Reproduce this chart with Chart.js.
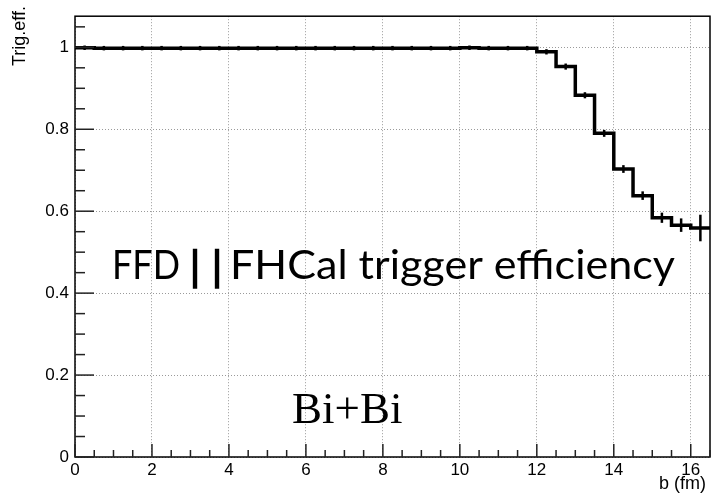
<!DOCTYPE html>
<html>
<head>
<meta charset="utf-8">
<script src="https://cdn.jsdelivr.net/npm/chart.js@4/dist/chart.umd.min.js"></script>
<style>
  html, body { margin: 0; padding: 0; background: #fff; }
  #wrap { width: 717px; height: 494px; }
</style>
</head>
<body>
<div id="wrap"><canvas id="chartEff"></canvas></div>
<script>
// bins of impact parameter b (fm), 0.5 fm wide
const binEdges = [0, 0.5, 1, 1.5, 2, 2.5, 3, 3.5, 4, 4.5, 5, 5.5, 6, 6.5, 7, 7.5, 8, 8.5,
  9, 9.5, 10, 10.5, 11, 11.5, 12, 12.5, 13, 13.5, 14, 14.5, 15, 15.5, 16, 16.5];
const effValues = [0.999, 0.998, 0.998, 0.998, 0.998, 0.998, 0.998, 0.998, 0.998, 0.998,
  0.998, 0.998, 0.998, 0.998, 0.998, 0.998, 0.998, 0.998, 0.998, 0.998, 0.999, 0.998,
  0.998, 0.998, 0.989, 0.953, 0.883, 0.790, 0.703, 0.638, 0.584, 0.566, 0.559];
const effErrors = [0.003, 0.003, 0.003, 0.003, 0.003, 0.003, 0.003, 0.003, 0.003, 0.003,
  0.003, 0.003, 0.003, 0.003, 0.003, 0.003, 0.003, 0.003, 0.003, 0.003, 0.003, 0.003,
  0.003, 0.003, 0.004, 0.005, 0.005, 0.006, 0.007, 0.008, 0.010, 0.014, 0.030];
const xTickLabels = [0, 2, 4, 6, 8, 10, 12, 14, 16];
const yTickLabels = [0, 0.2, 0.4, 0.6, 0.8, 1];

const xMax = 16.5, yMax = 1.076;

// histogram outline: value held from each low edge, closed at the last edge
function stepPoints() {
  const pts = effValues.map((v, i) => ({ x: binEdges[i], y: v }));
  pts.push({ x: binEdges[binEdges.length - 1], y: effValues[effValues.length - 1] });
  return pts;
}

// text drawn squeezed/stretched to a given width
function fitText(ctx, txt, x, y, width) {
  const w = ctx.measureText(txt).width;
  ctx.save();
  ctx.translate(x, y);
  ctx.scale(width / w, 1);
  ctx.fillText(txt, 0, 0);
  ctx.restore();
}

const rootStyle = {
  id: "rootStyle",
  afterDatasetsDraw(chart) {
    const ctx = chart.ctx;
    const a = chart.chartArea;
    const xs = chart.scales.x, ys = chart.scales.y;
    ctx.save();

    // error bars at bin centres
    ctx.strokeStyle = "#000";
    ctx.lineWidth = 2.5;
    effValues.forEach((v, i) => {
      const cx = xs.getPixelForValue((binEdges[i] + binEdges[i + 1]) / 2);
      const y1 = ys.getPixelForValue(v - effErrors[i]);
      const y2 = ys.getPixelForValue(v + effErrors[i]);
      ctx.beginPath();
      ctx.moveTo(cx, y1 + 1);
      ctx.lineTo(cx, y2 - 1);
      ctx.stroke();
    });

    // frame
    ctx.lineWidth = 1.5;
    ctx.strokeRect(a.left, a.top, a.right - a.left, a.bottom - a.top);

    // inward ticks
    ctx.lineWidth = 1.5;
    ctx.strokeStyle = "#222";
    for (let v = 0; v <= xMax + 1e-9; v += 0.5) {
      const px = xs.getPixelForValue(v);
      const len = Math.abs(v % 2) < 1e-9 ? 13 : 7;
      ctx.beginPath();
      ctx.moveTo(px, a.bottom);
      ctx.lineTo(px, a.bottom - len);
      ctx.stroke();
    }
    for (let v = 0; v <= yMax + 1e-9; v += 0.05) {
      const py = ys.getPixelForValue(v);
      const k = Math.round(v / 0.05);
      const len = k % 4 === 0 ? 19 : 10;
      ctx.beginPath();
      ctx.moveTo(a.left, py);
      ctx.lineTo(a.left + len, py);
      ctx.stroke();
    }

    // axis titles
    ctx.fillStyle = "#000";
    ctx.font = "18px 'Liberation Sans', Arial, sans-serif";
    ctx.textAlign = "right";
    ctx.textBaseline = "alphabetic";
    ctx.fillText("b (fm)", 706, 489);
    ctx.save();
    ctx.translate(25, 6);
    ctx.rotate(-Math.PI / 2);
    ctx.textAlign = "right";
    ctx.fillText("Trig.eff.", 0, 0);
    ctx.restore();

    // annotations
    ctx.textAlign = "left";
    ctx.font = "40px Lato, 'Open Sans', sans-serif";
    fitText(ctx, "FFD", 112, 279, 68);
    ctx.strokeStyle = "#000";
    ctx.lineWidth = 1.6;
    ctx.fillText("|", 190, 281);
    ctx.strokeText("|", 190, 281);
    ctx.fillText("|", 212, 281);
    ctx.strokeText("|", 212, 281);
    fitText(ctx, "FHCal trigger efficiency", 230, 279, 445);

    ctx.font = "45px 'Liberation Serif', 'Times New Roman', serif";
    ctx.fillText("Bi+Bi", 292, 423);

    ctx.restore();
  }
};

window.onload = () => {
  const ctx = document.getElementById("chartEff").getContext("2d");
  new Chart(ctx, {
    type: "line",
    data: {
      datasets: [{
        data: stepPoints(),
        stepped: "before",
        borderColor: "#000",
        borderWidth: 3.5,
        pointRadius: 0,
        fill: false,
      }],
    },
    options: {
      responsive: true,
      maintainAspectRatio: false,
      animation: false,
      layout: { padding: { top: 5, right: 7, left: 0, bottom: 0 } },
      plugins: { legend: { display: false }, tooltip: { enabled: false } },
      scales: {
        x: {
          type: "linear",
          min: 0,
          max: xMax,
          afterBuildTicks: (s) => { s.ticks = xTickLabels.map((v) => ({ value: v })); },
          afterFit: (s) => { s.height = 37; },
          grid: { color: "#9a9a9a", lineWidth: 1, drawTicks: false },
          border: { display: false, dash: [1, 2] },
          ticks: {
            color: "#000",
            padding: 3,
            maxRotation: 0,
            callback: (v) => String(v),
            font: { family: "'Liberation Sans', Arial, sans-serif", size: 17 },
          },
        },
        y: {
          type: "linear",
          min: 0,
          max: yMax,
          afterBuildTicks: (s) => { s.ticks = yTickLabels.map((v) => ({ value: v })); },
          afterFit: (s) => { s.width = 75; },
          grid: { color: "#9a9a9a", lineWidth: 1, drawTicks: false },
          border: { display: false, dash: [1, 2] },
          ticks: {
            color: "#000",
            padding: 6,
            callback: (v) => String(v),
            font: { family: "'Liberation Sans', Arial, sans-serif", size: 17 },
          },
        },
      },
    },
    plugins: [rootStyle],
  });
};
</script>
</body>
</html>
